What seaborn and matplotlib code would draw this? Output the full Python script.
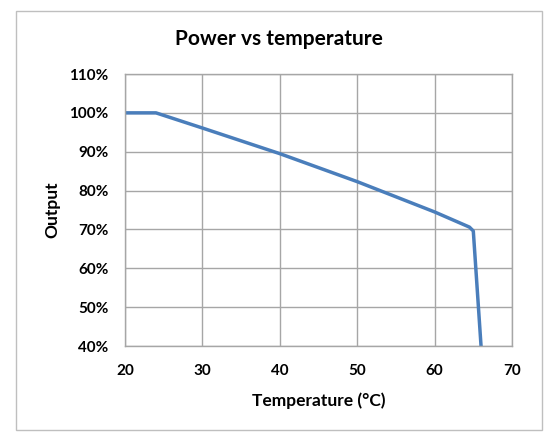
import matplotlib
matplotlib.use("Agg")
import matplotlib.pyplot as plt
import seaborn as sns
import pandas as pd
from matplotlib.patches import Rectangle
from matplotlib.ticker import FuncFormatter

temperature = [20, 24, 30, 40, 50, 60, 64.5, 65, 66]
output = [100, 100, 96.1, 89.5, 82.3, 74.5, 70.6, 69.6, 40]
x_ticks = [20, 30, 40, 50, 60, 70]
y_ticks = [40, 50, 60, 70, 80, 90, 100, 110]

sns.set_theme(style="whitegrid")
plt.rcParams['font.family'] = ['Lato', 'DejaVu Sans']

df = pd.DataFrame({"Temperature": temperature, "Output": output})

fig = plt.figure(figsize=(5.49, 4.41), dpi=100)
ax = fig.add_axes([125/549, 1-346/441, (512-125)/549, (346-74)/441])

sns.lineplot(data=df, x="Temperature", y="Output", ax=ax, color="#4a7ebb",
             linewidth=2.5, sort=False, estimator=None)

ax.set_xlim(20, 70)
ax.set_ylim(40, 110)
ax.set_xticks(x_ticks)
ax.set_yticks(y_ticks)
ax.yaxis.set_major_formatter(FuncFormatter(lambda v, p: f"{int(v)}%"))
ax.grid(True, color="#a6a6a6", linewidth=1.0)
for s in ax.spines.values():
    s.set_color("#a6a6a6")
    s.set_linewidth(1.0)
ax.tick_params(axis='both', length=0, labelsize=11, colors="black")
ax.tick_params(axis='x', pad=13)
ax.tick_params(axis='y', pad=12)
for lab in ax.get_xticklabels() + ax.get_yticklabels():
    lab.set_fontweight("bold")

ax.set_xlabel("Temperature (°C)", fontsize=12.5, fontweight="bold", labelpad=10, color="black")
ax.set_ylabel("Output", fontsize=12.5, fontweight="bold", labelpad=6, color="black")

fig.text(279/549, 1-39/441, "Power vs temperature", ha="center", va="center",
         fontsize=15, fontweight="bold", color="black")

fig.patches.append(Rectangle((16/549, 1-430/441), (542-16)/549, (430-11)/441,
                             transform=fig.transFigure, fill=False,
                             edgecolor="#bfbfbf", linewidth=1.0))

fig.savefig("out.png", dpi=100)
